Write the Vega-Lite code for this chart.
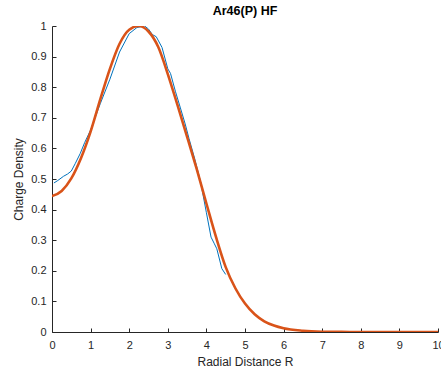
{
  "$schema": "https://vega.github.io/schema/vega-lite/v6.json",
  "autosize": {"type": "none"},
  "padding": {"left": 52, "top": 26, "right": 3, "bottom": 41},
  "width": 386,
  "height": 306,
  "background": "white",
  "title": {"text": "Ar46(P) HF", "font": "Liberation Sans", "fontSize": 12.5, "fontWeight": "bold", "color": "#000000", "anchor": "middle", "offset": 3},
  "config": {
    "view": {"stroke": null},
    "axis": {
      "grid": false,
      "domainColor": "#262626",
      "domainWidth": 1,
      "tickColor": "#262626",
      "tickSize": -4,
      "labelOverlap": false,
      "labelFlush": false,
      "labelFont": "Liberation Sans",
      "labelFontSize": 11,
      "labelColor": "#262626",
      "titleFont": "Liberation Sans",
      "titleFontSize": 12,
      "titleFontWeight": "normal",
      "titleColor": "#262626"
    }
  },
  "datasets": {
    "fit": [
      {"r": 0, "rho": 0.444}, {"r": 0.25, "rho": 0.461}, {"r": 0.5, "rho": 0.502}, {"r": 0.75, "rho": 0.568},
      {"r": 1.0, "rho": 0.655}, {"r": 1.25, "rho": 0.76}, {"r": 1.5, "rho": 0.86}, {"r": 1.75, "rho": 0.942},
      {"r": 2.0, "rho": 0.988}, {"r": 2.25, "rho": 1.0}, {"r": 2.5, "rho": 0.982}, {"r": 2.75, "rho": 0.932},
      {"r": 3.0, "rho": 0.843}, {"r": 3.25, "rho": 0.742}, {"r": 3.5, "rho": 0.638}, {"r": 3.75, "rho": 0.532},
      {"r": 4.0, "rho": 0.42}, {"r": 4.25, "rho": 0.31}, {"r": 4.5, "rho": 0.212}, {"r": 4.75, "rho": 0.143},
      {"r": 5.0, "rho": 0.093}, {"r": 5.25, "rho": 0.058}, {"r": 5.5, "rho": 0.035}, {"r": 5.75, "rho": 0.021},
      {"r": 6.0, "rho": 0.012}, {"r": 6.5, "rho": 0.004}, {"r": 7.0, "rho": 0.001}, {"r": 7.5, "rho": 0.0003},
      {"r": 8.0, "rho": 0}, {"r": 9.0, "rho": 0}, {"r": 10.0, "rho": 0}
    ],
    "data": [
      {"r": 0.05, "rho": 0.487}, {"r": 0.15, "rho": 0.495}, {"r": 0.3, "rho": 0.509}, {"r": 0.4, "rho": 0.516},
      {"r": 0.5, "rho": 0.526}, {"r": 0.6, "rho": 0.55}, {"r": 0.73, "rho": 0.583}, {"r": 0.85, "rho": 0.62},
      {"r": 1.0, "rho": 0.66}, {"r": 1.25, "rho": 0.746}, {"r": 1.5, "rho": 0.826}, {"r": 1.75, "rho": 0.915},
      {"r": 2.0, "rho": 0.975}, {"r": 2.2, "rho": 0.995}, {"r": 2.4, "rho": 1.0}, {"r": 2.5, "rho": 0.99},
      {"r": 2.6, "rho": 0.972}, {"r": 2.7, "rho": 0.965}, {"r": 2.85, "rho": 0.93}, {"r": 3.0, "rho": 0.86},
      {"r": 3.07, "rho": 0.845}, {"r": 3.2, "rho": 0.785}, {"r": 3.32, "rho": 0.735}, {"r": 3.45, "rho": 0.68},
      {"r": 3.55, "rho": 0.632}, {"r": 3.7, "rho": 0.565}, {"r": 3.85, "rho": 0.49}, {"r": 4.0, "rho": 0.39},
      {"r": 4.12, "rho": 0.31}, {"r": 4.2, "rho": 0.29}, {"r": 4.27, "rho": 0.272}, {"r": 4.4, "rho": 0.207},
      {"r": 4.5, "rho": 0.188}
    ]
  },
  "layer": [
    {
      "data": {"name": "data"},
      "mark": {"type": "line", "color": "#0072BD", "strokeWidth": 1, "interpolate": "linear", "clip": true},
      "encoding": {
        "x": {"field": "r", "type": "quantitative", "scale": {"domain": [0, 10], "nice": false, "zero": false},
              "axis": {"title": "Radial Distance R", "values": [0,1,2,3,4,5,6,7,8,9,10], "labelPadding": 11, "titlePadding": 6}},
        "y": {"field": "rho", "type": "quantitative", "scale": {"domain": [0, 1], "nice": false},
              "axis": {"title": "Charge Density", "values": [0,0.1,0.2,0.3,0.4,0.5,0.6,0.7,0.8,0.9,1], "format": ".1~f", "labelPadding": 10, "titlePadding": 5}}
      }
    },
    {
      "data": {"name": "fit"},
      "mark": {"type": "line", "color": "#D95319", "strokeWidth": 2.6, "interpolate": "monotone", "clip": true},
      "encoding": {
        "x": {"field": "r", "type": "quantitative",
              "axis": {"title": "Radial Distance R", "values": [0,1,2,3,4,5,6,7,8,9,10], "labelPadding": 11, "titlePadding": 6}},
        "y": {"field": "rho", "type": "quantitative",
              "axis": {"title": "Charge Density", "values": [0,0.1,0.2,0.3,0.4,0.5,0.6,0.7,0.8,0.9,1], "format": ".1~f", "labelPadding": 10, "titlePadding": 5}}
      }
    }
  ]
}
